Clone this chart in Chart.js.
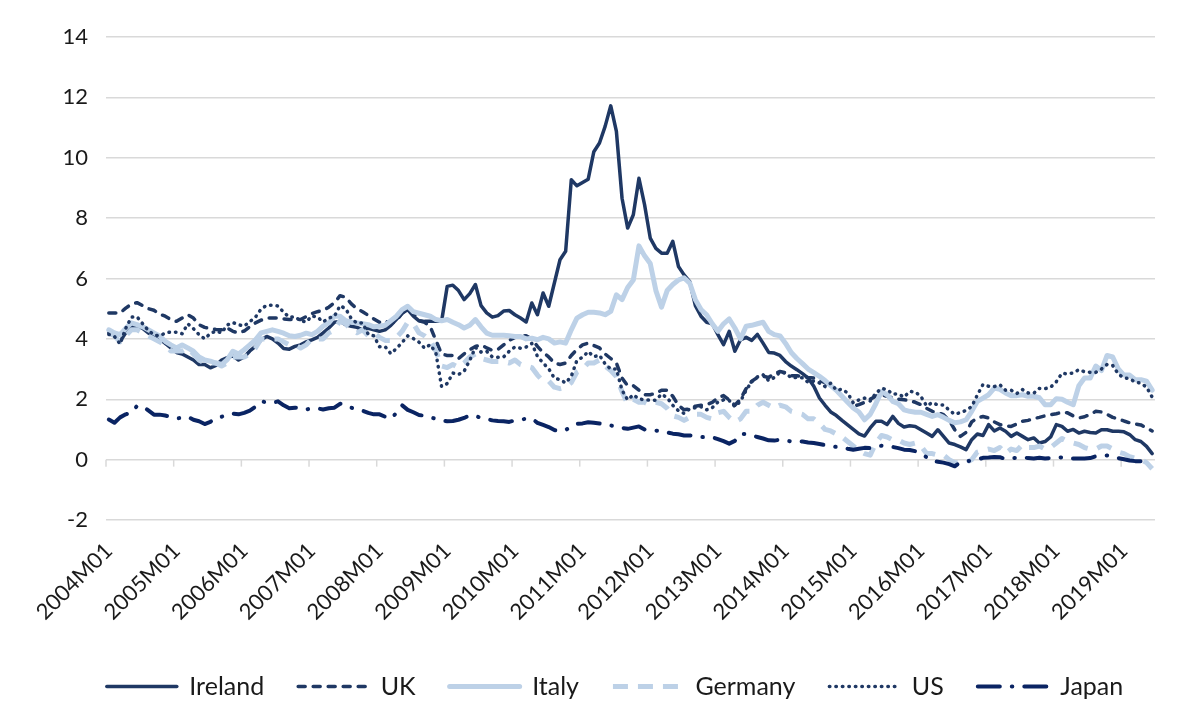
<!DOCTYPE html>
<html>
<head>
<meta charset="utf-8">
<title>Long-term interest rates</title>
<script src="https://cdn.jsdelivr.net/npm/chart.js@4.4.1/dist/chart.umd.min.js"></script>
<style>
  html, body { margin: 0; padding: 0; background: #ffffff; }
  #wrap { width: 1197px; height: 711px; }
</style>
</head>
<body>
<div id="wrap"><canvas id="ratesChart" width="1197" height="711"></canvas></div>
<script>
// Monthly 10-year government bond yields, 2004M01 - 2019M06

const years = [2004, 2005, 2006, 2007, 2008, 2009, 2010, 2011, 2012, 2013, 2014, 2015, 2016, 2017, 2018, 2019];
const monthCodes = ['01', '02', '03', '04', '05', '06', '07', '08', '09', '10', '11', '12'];
const lastMonthCount = 6; // data stops at 2019M06
const labelEvery = 12;

const yTicks = { min: -2, max: 14, step: 2 };

const ireland = [
  4.20, 4.10, 3.92, 4.20, 4.40, 4.40, 4.35, 4.20, 4.10, 4.00, 3.85, 3.70,
  3.55, 3.50, 3.40, 3.30, 3.15, 3.15, 3.04, 3.12, 3.30, 3.38, 3.44, 3.30,
  3.40, 3.60, 3.75, 3.97, 4.08, 4.00, 3.86, 3.68, 3.66, 3.75, 3.80, 3.90,
  3.97, 4.05, 4.20, 4.36, 4.55, 4.58, 4.47, 4.42, 4.38, 4.30, 4.35, 4.30,
  4.25, 4.30, 4.45, 4.65, 4.85, 4.97, 4.75, 4.60, 4.58, 4.58, 4.58, 4.58,
  5.74, 5.78, 5.60, 5.30, 5.50, 5.80, 5.10, 4.86, 4.72, 4.77, 4.92, 4.94,
  4.80, 4.69, 4.56, 5.19, 4.80, 5.52, 5.08, 5.85, 6.62, 6.90, 9.27, 9.07,
  9.18, 9.29, 10.20, 10.49, 11.04, 11.72, 10.87, 8.66, 7.67, 8.11, 9.32, 8.44,
  7.34, 7.00, 6.84, 6.84, 7.23, 6.40, 6.12, 5.90, 5.10, 4.75, 4.55, 4.50,
  4.14, 3.81, 4.25, 3.59, 3.97, 4.05, 3.95, 4.15, 3.86, 3.55, 3.53, 3.45,
  3.25, 3.10, 2.98, 2.85, 2.70, 2.43, 2.04, 1.80, 1.58, 1.46, 1.30, 1.15,
  1.00, 0.85, 0.78, 1.05, 1.27, 1.27, 1.16, 1.43, 1.20, 1.08, 1.12, 1.10,
  0.99, 0.88, 0.77, 0.99, 0.77, 0.55, 0.50, 0.42, 0.33, 0.66, 0.85, 0.80,
  1.16, 0.95, 1.05, 0.94, 0.77, 0.88, 0.77, 0.66, 0.72, 0.55, 0.60, 0.75,
  1.16, 1.10, 0.94, 1.00, 0.88, 0.94, 0.90, 0.88, 0.99, 0.99, 0.94, 0.94,
  0.92, 0.83, 0.66, 0.60, 0.44, 0.20
];

const uk = [
  4.86, 4.86, 4.86, 5.02, 5.15, 5.20, 5.10, 5.00, 4.95, 4.82, 4.75, 4.64,
  4.58, 4.69, 4.80, 4.69, 4.47, 4.38, 4.34, 4.31, 4.30, 4.36, 4.25, 4.20,
  4.26, 4.40, 4.53, 4.62, 4.69, 4.69, 4.69, 4.66, 4.64, 4.64, 4.64, 4.74,
  4.84, 4.90, 4.95, 5.05, 5.20, 5.43, 5.38, 5.16, 5.00, 4.90, 4.78, 4.66,
  4.55, 4.60, 4.50, 4.60, 4.85, 5.00, 4.85, 4.60, 4.55, 4.40, 3.95, 3.50,
  3.45, 3.45, 3.35, 3.50, 3.64, 3.75, 3.80, 3.70, 3.62, 3.65, 3.80, 3.95,
  4.05, 4.10, 4.10, 4.00, 3.75, 3.55, 3.40, 3.20, 3.15, 3.20, 3.45, 3.65,
  3.80, 3.86, 3.78, 3.70, 3.50, 3.35, 3.20, 2.70, 2.45, 2.45, 2.30, 2.15,
  2.15, 2.20, 2.30, 2.30, 2.10, 1.80, 1.65, 1.68, 1.77, 1.80, 1.82, 1.90,
  2.05, 2.12, 1.98, 1.80, 2.00, 2.35, 2.60, 2.72, 2.76, 2.72, 2.85, 2.92,
  2.88, 2.78, 2.78, 2.75, 2.72, 2.70, 2.62, 2.55, 2.45, 2.30, 2.10, 1.90,
  1.77, 1.82, 1.90, 2.00, 2.10, 2.15, 2.10, 2.04, 2.00, 1.98, 1.96, 1.90,
  1.82, 1.70, 1.60, 1.55, 1.49, 1.30, 0.99, 0.77, 0.90, 1.25, 1.38, 1.43,
  1.38, 1.25, 1.16, 1.12, 1.10, 1.18, 1.27, 1.30, 1.36, 1.40, 1.45, 1.49,
  1.52, 1.57, 1.55, 1.45, 1.38, 1.42, 1.50, 1.60, 1.58, 1.50, 1.40, 1.35,
  1.28, 1.22, 1.18, 1.15, 1.05, 0.95
];

const italy = [
  4.30, 4.20, 4.14, 4.35, 4.53, 4.47, 4.40, 4.30, 4.20, 4.10, 3.92, 3.80,
  3.70, 3.80, 3.70, 3.59, 3.40, 3.30, 3.26, 3.20, 3.15, 3.31, 3.59, 3.50,
  3.64, 3.80, 3.97, 4.20, 4.25, 4.30, 4.25, 4.19, 4.10, 4.08, 4.12, 4.19,
  4.14, 4.25, 4.42, 4.53, 4.75, 4.75, 4.60, 4.55, 4.53, 4.50, 4.47, 4.40,
  4.42, 4.45, 4.60, 4.75, 4.97, 5.08, 4.90, 4.85, 4.80, 4.75, 4.64, 4.60,
  4.64, 4.55, 4.47, 4.36, 4.45, 4.64, 4.40, 4.19, 4.12, 4.12, 4.12, 4.10,
  4.08, 4.08, 4.00, 4.02, 3.97, 4.05, 4.00, 3.86, 3.90, 3.86, 4.30, 4.69,
  4.80, 4.88, 4.88, 4.86, 4.80, 4.91, 5.46, 5.30, 5.70, 5.95, 7.08, 6.75,
  6.50, 5.60, 5.05, 5.60, 5.80, 5.95, 6.02, 5.85, 5.30, 4.97, 4.80, 4.50,
  4.25, 4.50, 4.66, 4.36, 4.00, 4.42, 4.45, 4.50, 4.55, 4.25, 4.14, 4.10,
  3.85, 3.55, 3.35, 3.18, 3.00, 2.88, 2.76, 2.62, 2.45, 2.30, 2.10, 1.90,
  1.71, 1.58, 1.32, 1.50, 1.85, 2.26, 2.15, 1.93, 1.85, 1.65, 1.60, 1.57,
  1.57, 1.50, 1.43, 1.49, 1.40, 1.30, 1.22, 1.25, 1.32, 1.60, 1.93, 2.04,
  2.15, 2.37, 2.33, 2.21, 2.12, 2.12, 2.15, 2.10, 2.10, 2.05, 1.82, 1.82,
  2.02, 2.00, 1.90, 1.82, 2.45, 2.70, 2.70, 3.10, 2.95, 3.45, 3.40, 3.00,
  2.80, 2.80, 2.65, 2.65, 2.60, 2.30
];

const germany = [
  4.20, 4.10, 3.90, 4.10, 4.30, 4.30, 4.20, 4.10, 4.00, 3.90, 3.80, 3.60,
  3.60, 3.60, 3.70, 3.50, 3.30, 3.20, 3.20, 3.20, 3.10, 3.20, 3.40, 3.40,
  3.40, 3.50, 3.70, 4.00, 4.00, 4.00, 4.00, 3.90, 3.80, 3.80, 3.70, 3.80,
  4.00, 4.00, 4.00, 4.20, 4.30, 4.60, 4.50, 4.30, 4.20, 4.30, 4.10, 4.20,
  4.05, 3.95, 3.95, 4.05, 4.25, 4.55, 4.50, 4.20, 4.10, 3.95, 3.60, 3.10,
  3.05, 3.15, 3.05, 3.20, 3.40, 3.50, 3.35, 3.30, 3.25, 3.25, 3.25, 3.20,
  3.30, 3.15, 3.10, 3.05, 2.80, 2.60, 2.60, 2.40, 2.35, 2.40, 2.55, 2.90,
  3.00, 3.20, 3.20, 3.30, 3.10, 2.95, 2.75, 2.25, 1.85, 2.00, 1.90, 1.90,
  1.80, 1.90, 1.85, 1.70, 1.45, 1.40, 1.30, 1.40, 1.50, 1.50, 1.40, 1.35,
  1.55, 1.60, 1.40, 1.25, 1.35, 1.60, 1.60, 1.80, 1.90, 1.80, 1.70, 1.80,
  1.75, 1.60, 1.55, 1.50, 1.35, 1.35, 1.20, 1.00, 0.95, 0.85, 0.75, 0.60,
  0.45, 0.30, 0.20, 0.15, 0.55, 0.80, 0.75, 0.65, 0.65, 0.55, 0.50, 0.55,
  0.45, 0.20, 0.20, 0.15, 0.15, 0.00, -0.10, -0.10, -0.10, 0.00, 0.25, 0.30,
  0.35, 0.30, 0.40, 0.20, 0.35, 0.30, 0.50, 0.40, 0.40, 0.45, 0.35, 0.40,
  0.55, 0.70, 0.60, 0.55, 0.50, 0.40, 0.35, 0.35, 0.45, 0.45, 0.35, 0.25,
  0.20, 0.10, 0.05, 0.00, -0.10, -0.30
];

const us = [
  4.15, 4.08, 3.83, 4.35, 4.72, 4.73, 4.50, 4.28, 4.13, 4.10, 4.19, 4.23,
  4.22, 4.17, 4.50, 4.34, 4.14, 4.00, 4.18, 4.26, 4.20, 4.46, 4.54, 4.47,
  4.42, 4.57, 4.72, 4.99, 5.11, 5.11, 5.09, 4.88, 4.72, 4.73, 4.60, 4.56,
  4.76, 4.72, 4.56, 4.69, 4.75, 5.10, 5.00, 4.67, 4.52, 4.53, 4.15, 4.10,
  3.74, 3.74, 3.51, 3.68, 3.88, 4.10, 4.01, 3.89, 3.69, 3.81, 3.53, 2.42,
  2.52, 2.87, 2.82, 2.93, 3.29, 3.72, 3.56, 3.59, 3.40, 3.39, 3.40, 3.59,
  3.73, 3.69, 3.73, 3.85, 3.42, 3.20, 3.01, 2.70, 2.65, 2.54, 2.76, 3.29,
  3.39, 3.58, 3.41, 3.46, 3.17, 3.00, 3.00, 2.30, 1.98, 2.15, 2.01, 1.98,
  1.97, 1.97, 2.17, 2.05, 1.80, 1.62, 1.53, 1.68, 1.72, 1.75, 1.65, 1.72,
  1.91, 1.98, 1.96, 1.76, 1.93, 2.30, 2.58, 2.74, 2.81, 2.62, 2.72, 2.90,
  2.86, 2.71, 2.72, 2.71, 2.56, 2.60, 2.54, 2.42, 2.53, 2.30, 2.33, 2.21,
  1.88, 1.98, 2.04, 1.94, 2.20, 2.36, 2.32, 2.17, 2.17, 2.07, 2.26, 2.24,
  2.09, 1.78, 1.89, 1.81, 1.81, 1.64, 1.50, 1.56, 1.63, 1.76, 2.14, 2.49,
  2.43, 2.42, 2.48, 2.30, 2.30, 2.19, 2.32, 2.21, 2.20, 2.36, 2.35, 2.40,
  2.58, 2.86, 2.84, 2.87, 2.98, 2.91, 2.89, 2.89, 3.00, 3.15, 3.12, 2.83,
  2.71, 2.68, 2.57, 2.53, 2.40, 2.07
];

const japan = [
  1.33, 1.22, 1.40, 1.50, 1.55, 1.78, 1.77, 1.63, 1.49, 1.49, 1.46, 1.42,
  1.37, 1.38, 1.42, 1.32, 1.27, 1.18, 1.25, 1.38, 1.42, 1.50, 1.52, 1.50,
  1.55, 1.62, 1.75, 1.93, 1.90, 1.88, 1.93, 1.80, 1.70, 1.72, 1.71, 1.66,
  1.70, 1.70, 1.66, 1.70, 1.72, 1.85, 1.83, 1.72, 1.65, 1.62, 1.55, 1.50,
  1.50, 1.42, 1.35, 1.55, 1.80, 1.65, 1.57, 1.48, 1.45, 1.40, 1.35, 1.30,
  1.27, 1.28, 1.32, 1.38, 1.47, 1.45, 1.38, 1.35, 1.30, 1.28, 1.27, 1.25,
  1.30, 1.33, 1.35, 1.36, 1.22, 1.15, 1.08, 0.98, 0.94, 0.98, 1.10, 1.19,
  1.20, 1.24, 1.22, 1.20, 1.15, 1.13, 1.10, 1.05, 1.02, 1.06, 1.10, 1.00,
  0.97, 0.96, 0.95, 0.90, 0.86, 0.84, 0.80, 0.80, 0.78, 0.75, 0.74, 0.74,
  0.68, 0.61, 0.53, 0.62, 0.85, 0.85, 0.80, 0.75, 0.70, 0.64, 0.63, 0.66,
  0.64, 0.60, 0.62, 0.60, 0.57, 0.55, 0.52, 0.48, 0.45, 0.42, 0.40, 0.36,
  0.33, 0.36, 0.39, 0.38, 0.42, 0.46, 0.45, 0.42, 0.38, 0.33, 0.32, 0.28,
  0.20, 0.08, -0.05, -0.07, -0.10, -0.15, -0.22, -0.09, -0.05, -0.04, 0.00, 0.06,
  0.07, 0.09, 0.08, 0.02, 0.04, 0.06, 0.08, 0.05, 0.04, 0.06, 0.04, 0.05,
  0.08, 0.07, 0.04, 0.04, 0.04, 0.04, 0.05, 0.11, 0.12, 0.14, 0.11, 0.05,
  0.01, -0.03, -0.05, -0.05, -0.07, -0.13
];

// Build the category labels 2004M01 ... 2019M06
const labels = [];
years.forEach(function(yr, yi) {
  const count = yi === years.length - 1 ? lastMonthCount : monthCodes.length;
  for (let m = 0; m < count; m++) {
    labels.push(yr + 'M' + monthCodes[m]);
  }
});

const darkBlue = '#1F3864';
const navy = '#0A2463';
const lightBlue = '#BDD1E7';
const gridGrey = '#D9D9D9';
const textColor = '#1a1a1a';

// layout numbers tuned to the reference picture
const Y_AXIS_WIDTH = 55;
const X_AXIS_HEIGHT = 120;
const LEGEND_HEIGHT = 67;
const LEGEND_SHIFT = 12;

function makeSeries(label, values, color, width, dash, cap, order) {
  return {
    label: label,
    data: values,
    borderColor: color,
    backgroundColor: color,
    borderWidth: width,
    borderDash: dash,
    borderCapStyle: cap,
    borderJoinStyle: 'round',
    pointRadius: 0,
    pointHoverRadius: 0,
    pointStyle: 'line',
    tension: 0,
    fill: false,
    order: order
  };
}

// Small tick marks on the zero line between years (Excel axis crosses at 0)
const zeroLineTicks = {
  id: 'zeroLineTicks',
  beforeDatasetsDraw(chart) {
    const x = chart.scales.x;
    const y = chart.scales.y;
    const ctx = chart.ctx;
    const y0 = y.getPixelForValue(0);
    const half = (x.getPixelForValue(1) - x.getPixelForValue(0)) / 2;
    ctx.save();
    ctx.strokeStyle = gridGrey;
    ctx.lineWidth = 1.5;
    for (let i = 0; i < labels.length; i += labelEvery) {
      const px = x.getPixelForValue(i) - half;
      ctx.beginPath();
      ctx.moveTo(px, y0);
      ctx.lineTo(px, y0 + 7);
      ctx.stroke();
    }
    ctx.restore();
  }
};

// Fix the legend band height and nudge it so it lines up with the picture
const legendPlacement = {
  id: 'legendPlacement',
  beforeLayout(chart) {
    const legend = chart.legend;
    if (legend && !legend._heightFixed) {
      const fit = legend.fit;
      legend.fit = function() {
        fit.call(this);
        this.height = LEGEND_HEIGHT;
      };
      legend._heightFixed = true;
    }
  },
  afterLayout(chart) {
    if (!chart.legend) return;
    chart.legend.left += LEGEND_SHIFT;
    chart.legend.right += LEGEND_SHIFT;
  }
};

// Legend entries drawn as short line samples with each series' dash pattern
function legendLabels(chart) {
  return chart.data.datasets.map(function(ds, i) {
    return {
      text: ds.label,
      datasetIndex: i,
      fillStyle: ds.borderColor,
      strokeStyle: ds.borderColor,
      fontColor: textColor,
      lineWidth: ds.borderWidth,
      lineDash: ds.borderDash,
      lineCap: ds.borderCapStyle,
      pointStyle: 'line',
      hidden: !chart.isDatasetVisible(i)
    };
  });
}

function initializeRatesChart() {
  const canvas = document.getElementById('ratesChart');
  if (!canvas) return;

  Chart.defaults.font.family = 'Lato, "Open Sans", sans-serif';
  Chart.defaults.color = textColor;

  new Chart(canvas.getContext('2d'), {
    type: 'line',
    data: {
      labels: labels,
      datasets: [
        makeSeries('Ireland', ireland, darkBlue, 3.5, [], 'round', 6),
        makeSeries('UK', uk, darkBlue, 3.5, [7, 8], 'round', 5),
        makeSeries('Italy', italy, lightBlue, 5, [], 'round', 4),
        makeSeries('Germany', germany, lightBlue, 5, [15, 10], 'butt', 3),
        makeSeries('US', us, darkBlue, 3.5, [0.5, 6], 'round', 2),
        makeSeries('Japan', japan, navy, 4, [22, 12, 0.5, 12], 'round', 1)
      ]
    },
    options: {
      responsive: false,
      animation: false,
      devicePixelRatio: 1,
      layout: {
        padding: { left: 51, right: 42, top: 37, bottom: 4 }
      },
      plugins: {
        legend: {
          position: 'bottom',
          labels: {
            usePointStyle: true,
            pointStyleWidth: 70,
            padding: 34,
            color: textColor,
            font: { size: 25 },
            generateLabels: legendLabels
          }
        },
        tooltip: { enabled: false }
      },
      scales: {
        x: {
          type: 'category',
          offset: true,
          grid: { display: false, drawTicks: false },
          border: { display: false },
          ticks: {
            autoSkip: false,
            minRotation: 45,
            maxRotation: 45,
            padding: 18,
            color: textColor,
            font: { size: 22 },
            callback: function(value, index) {
              return index % labelEvery === 0 ? labels[index] : '';
            }
          },
          afterFit: function(scale) { scale.height = X_AXIS_HEIGHT; }
        },
        y: {
          min: yTicks.min,
          max: yTicks.max,
          grid: { color: gridGrey, lineWidth: 1.5, drawTicks: false },
          border: { display: false },
          ticks: {
            stepSize: yTicks.step,
            padding: 18,
            color: textColor,
            font: { size: 22 }
          },
          afterFit: function(scale) { scale.width = Y_AXIS_WIDTH; }
        }
      }
    },
    plugins: [zeroLineTicks, legendPlacement]
  });
}

document.addEventListener('DOMContentLoaded', function() {
  initializeRatesChart();
});
</script>
</body>
</html>
